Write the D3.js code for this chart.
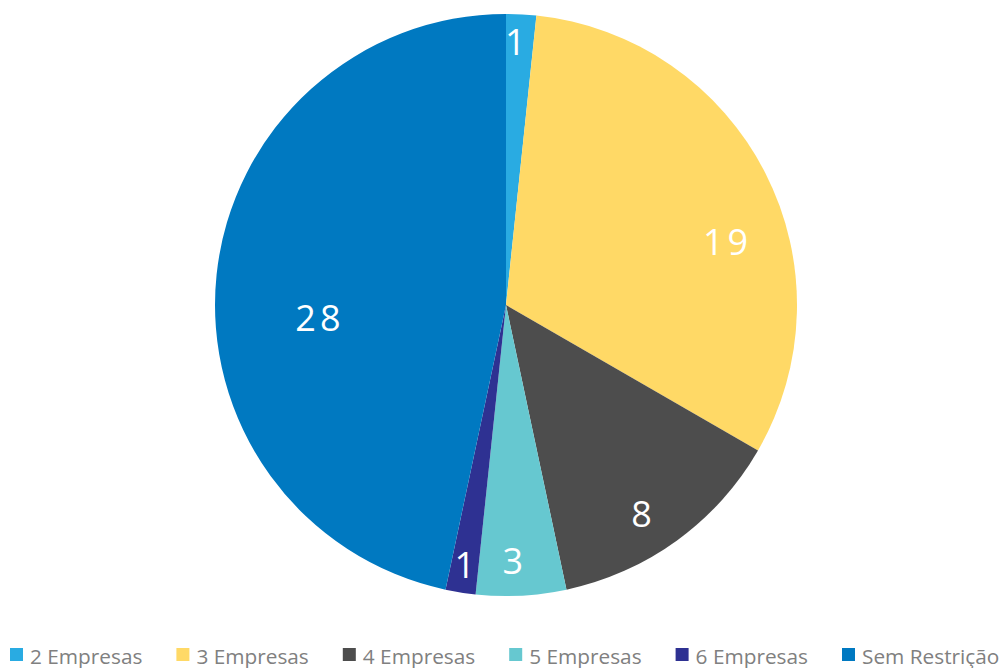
<!DOCTYPE html>
<html>
<head>
<meta charset="utf-8">
<script src="https://cdn.jsdelivr.net/npm/d3@7"></script>
<style>
  html, body { margin: 0; padding: 0; background: #fff; }
  svg { display: block; }
</style>
</head>
<body>
<svg id="chart" width="1005" height="668"></svg>
<script>
// Distribution of entries by number of companies
const categories = ["2 Empresas", "3 Empresas", "4 Empresas", "5 Empresas", "6 Empresas", "Sem Restrição"];
const values = [1, 19, 8, 3, 1, 28];
const colors = ["#29ABE2", "#FFD966", "#4D4D4D", "#66C8D0", "#2E3192", "#0079C1"];

// label placement: angular shift (degrees) from slice middle and radius fraction
const labelShift = [-1, 11, 3, 1.5, 0, -10];
const labelRadius = [0.905, 0.785, 0.855, 0.88, 0.905, 0.648];

const svg = d3.select("#chart");
const cx = 506, cy = 305, r = 291;

const pie = d3.pie().value(d => d).sort(null);
const arcs = pie(values);
const arc = d3.arc().innerRadius(0).outerRadius(r);

const g = svg.append("g").attr("transform", `translate(${cx},${cy})`);

g.selectAll("path.slice")
  .data(arcs)
  .join("path")
  .attr("class", "slice")
  .attr("d", arc)
  .attr("fill", (d, i) => colors[i]);

g.selectAll("text.val")
  .data(arcs)
  .join("text")
  .attr("class", "val")
  .attr("transform", (d, i) => {
    const a = (d.startAngle + d.endAngle) / 2 + labelShift[i] * Math.PI / 180;
    const rr = r * labelRadius[i];
    return `translate(${Math.sin(a) * rr + 2},${-Math.cos(a) * rr})`;
  })
  .attr("text-anchor", "middle")
  .attr("dy", "0.36em")
  .attr("fill", "#fff")
  .style("font-family", "'Open Sans', sans-serif")
  .style("font-size", "36px")
  .style("letter-spacing", "4px")
  .text(d => d.data);

// legend along the bottom
const legend = svg.append("g").attr("transform", "translate(10,648)");
const item = legend.selectAll("g")
  .data(categories)
  .join("g")
  .attr("transform", (d, i) => `translate(${i * 166.4},0)`);

item.append("rect")
  .attr("width", 13)
  .attr("height", 13)
  .attr("y", 0)
  .attr("fill", (d, i) => colors[i]);

item.append("text")
  .attr("x", 20)
  .attr("y", 15.5)
  .attr("fill", "#808080")
  .style("font-family", "'Open Sans', sans-serif")
  .style("font-size", "20.8px")
  .text(d => d);
</script>
</body>
</html>
